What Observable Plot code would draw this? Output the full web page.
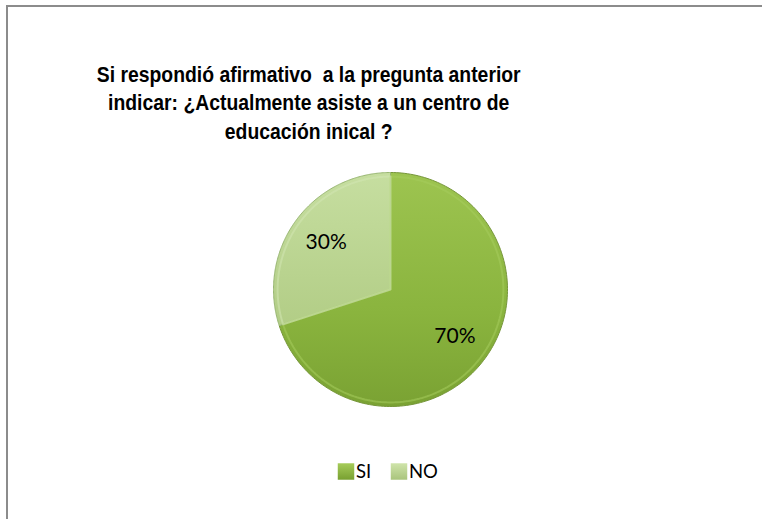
<!DOCTYPE html>
<html><head><meta charset="utf-8">
<script src="https://cdn.jsdelivr.net/npm/d3@7"></script>
<script src="https://cdn.jsdelivr.net/npm/@observablehq/plot@0.6"></script>
<style>
body{margin:0;background:#fff;overflow:hidden}
#wrap{position:relative;width:762px;height:519px;overflow:hidden}
#border{position:absolute;left:6px;top:5px;width:800px;height:600px;border-top:2px solid #8c8c8c;border-left:2px solid #8c8c8c;pointer-events:none}
</style></head>
<body><div id="wrap"><div id="border"></div></div>
<script>
const categories = ["SI", "NO"];
const values = [70, 30];
const valueLabels = ["70%", "30%"];
const titleLines = ["Si respondió afirmativo  a la pregunta anterior", "indicar: ¿Actualmente asiste a un centro de", "educación inical ?"];

const R = 117;
const arcs = d3.pie().sort(null)(values);
function slicePoints(a, cat) {
  const pts = [{cat, x: 0, y: 0}];
  const n = 180;
  for (let i = 0; i <= n; i++) {
    const t = a.startAngle + (a.endAngle - a.startAngle) * i / n;
    pts.push({cat, x: R * Math.sin(t), y: R * Math.cos(t)});
  }
  pts.push({cat, x: 0, y: 0});
  return pts;
}
const sliceData = arcs.map((a, i) => slicePoints(a, categories[i]));
const labelData = arcs.map((a, i) => {
  const m = (a.startAngle + a.endAngle) / 2;
  return {label: valueLabels[i], x: 0.68 * R * Math.sin(m), y: 0.68 * R * Math.cos(m)};
});
const legendX = [-44.5, 8.5];
const legendData = categories.map((c, i) => ({cat: c, x: legendX[i], y: -182}));
const fills = ["url(#gSI)", "url(#gNO)"];
const legendFills = ["url(#lSI)", "url(#lNO)"];

const plot = Plot.plot({
  width: 762, height: 519,
  marginTop: 0, marginBottom: 0, marginLeft: 0, marginRight: 0,
  x: {domain: [-390, 372], axis: null},
  y: {domain: [-230, 289], axis: null},
  style: {background: "transparent"},
  marks: [
    ...sliceData.map((pts, i) => Plot.line(pts, {x: "x", y: "y", fill: fills[i], stroke: i === 0 ? "#76963a" : "#98b672", strokeWidth: 1, curve: "linear"})),
    ...sliceData.map((pts, i) => Plot.line(pts, {x: d => d.x * 0.965, y: d => d.y * 0.965, fill: "none", stroke: i === 0 ? "#a6cc5c" : "#d2e6b2", strokeWidth: 2, strokeOpacity: 0.55, curve: "linear"})),
    Plot.text(labelData, {x: "x", y: "y", text: "label", fontSize: 21, fontFamily: "Lato", fill: "#000"}),
    Plot.text([titleLines.join("\n")], {frameAnchor: "top", dx: -65, dy: 61, lineAnchor: "top", lineHeight: 1.3, fontSize: 22, fontWeight: "bold", fontFamily: "Liberation Sans, Arial, sans-serif", fill: "#000"}),
    ...legendData.map((d, i) => Plot.dot([d], {x: "x", y: "y", symbol: "square", r: 9.3, fill: legendFills[i], stroke: "none"})),
    Plot.text(legendData, {x: "x", y: "y", text: "cat", textAnchor: "start", dx: 10, dy: 1, fontSize: 18.5, fontFamily: "Lato", fill: "#000"})
  ]
});
const defs = `<defs>
<linearGradient id="gSI" x1="0" y1="0" x2="0" y2="1">
<stop offset="0" stop-color="#9dc450"/><stop offset="0.6" stop-color="#8ab43e"/><stop offset="1" stop-color="#7aa233"/></linearGradient>
<linearGradient id="gNO" x1="0" y1="0" x2="0" y2="1">
<stop offset="0" stop-color="#c6dea0"/><stop offset="1" stop-color="#b2cd86"/></linearGradient>
<linearGradient id="lSI" x1="0" y1="0" x2="0" y2="1">
<stop offset="0" stop-color="#a6cc5a"/><stop offset="1" stop-color="#78a030"/></linearGradient>
<linearGradient id="lNO" x1="0" y1="0" x2="0" y2="1">
<stop offset="0" stop-color="#cfe4aa"/><stop offset="1" stop-color="#a9c47c"/></linearGradient>
</defs>`;
plot.insertAdjacentHTML("afterbegin", defs);
plot.style.position = "absolute";
plot.style.left = "0";
plot.style.top = "0";
document.getElementById("wrap").prepend(plot);

// condense the title horizontally to match the narrow bold face of the original
const titleText = Array.from(plot.querySelectorAll("text")).find(t => t.textContent.startsWith("Si resp"));
if (titleText) {
  const first = titleText.querySelector("tspan") || titleText;
  let w = 0;
  try { w = first.getComputedTextLength(); } catch (e) { w = 0; }
  if (!(w > 0)) w = first.getBBox ? first.getBBox().width : 0;
  const k = w > 0 ? 424 / w : 0.82;
  const cx = 316;
  const wrapG = document.createElementNS("http://www.w3.org/2000/svg", "g");
  wrapG.setAttribute("transform", `translate(${cx},0) scale(${k},1) translate(${-cx},0)`);
  titleText.parentNode.insertBefore(wrapG, titleText);
  wrapG.appendChild(titleText);
}
</script>
</body></html>
